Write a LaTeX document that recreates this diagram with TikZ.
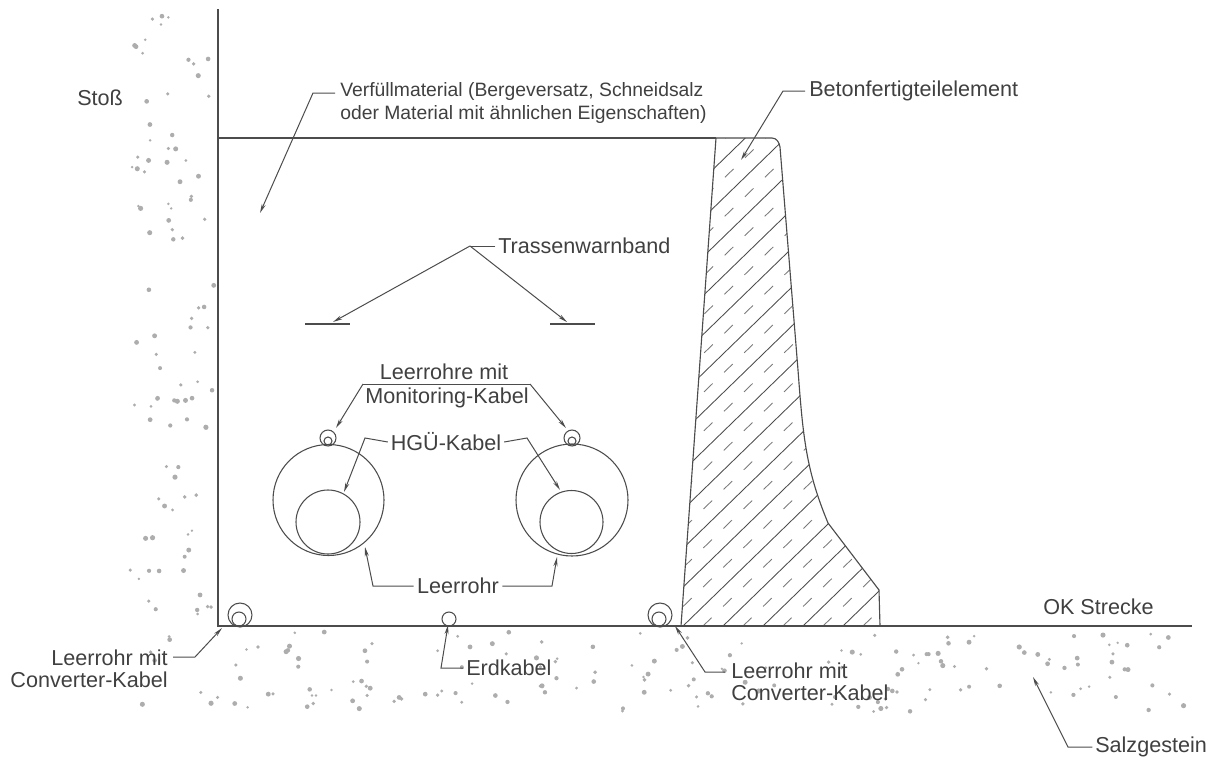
\documentclass[tikz,border=0pt]{standalone}
\usepackage{fontspec}
\setmainfont{Liberation Sans}
\usetikzlibrary{arrows.meta}
\definecolor{ink}{gray}{0.3}
\definecolor{txt}{gray}{0.25}
\definecolor{stip}{gray}{0.68}
\tikzset{
 px/.style={x=0.75pt,y=-0.75pt},
 biglab/.style={inner sep=0pt,text=txt,font=\fontsize{16.2pt}{16.5pt}\selectfont},
 verflab/.style={inner sep=0pt,text=txt,font=\fontsize{14.5pt}{17.3pt}\selectfont},
 line/.style={draw=ink,line width=0.85pt},
 lead/.style={draw=ink,line width=0.75pt},
 leadarrow/.style={lead,-{Stealth[length=7pt,width=3pt]}},
 hatch/.style={draw=ink,line width=0.65pt},
 hatchd/.style={draw=ink!75,line width=0.65pt,dash pattern=on 9pt off 12pt},
 pipe/.style={draw=ink,line width=0.8pt,circle,inner sep=0pt,fill=none},
 speck/.style={fill=stip,draw=none},
}
\begin{document}
\begin{tikzpicture}[px]
\useasboundingbox (0,0) rectangle (1214,757);
\pgfmathsetseed{4711}
\foreach \i in {1,...,95}{
  \pgfmathsetmacro{\xx}{130+rnd*84}
  \pgfmathsetmacro{\yy}{15+rnd*605}
  \pgfmathsetmacro{\rr}{1.3+rnd*1.3}
  \fill[speck] (\xx,\yy) circle[radius=\rr];
}
\foreach \i in {1,...,170}{
  \pgfmathsetmacro{\xx}{135+rnd*1050}
  \pgfmathsetmacro{\yy}{632+rnd*80}
  \pgfmathsetmacro{\rr}{1.3+rnd*1.3}
  \fill[speck] (\xx,\yy) circle[radius=\rr];
}
\begin{scope}
\clip (716,138) -- (772,138) to[out=0,in=100] (780,147) -- (798,370) .. controls (803,437) and (806,470) .. (828,523) -- (879,590) -- (880,626) -- (681,626) -- cycle;
\foreach \k in {-14,...,6}{
  \draw[hatch] ({683+40*\k},626) -- ++(700,-680);
  \draw[hatchd] ({703+40*\k},626) -- ++(700,-680);
}
\end{scope}
\draw[line] (716,138) -- (772,138) to[out=0,in=100] (780,147) -- (798,370) .. controls (803,437) and (806,470) .. (828,523) -- (879,590) -- (880,626);
\draw[line] (716,138) -- (681,626);
\draw[line] (218,9) -- (218,626) -- (1192,626);
\draw[line] (218,138) -- (716,138);
\draw[line] (305,324) -- (350,324);
\draw[line] (550,324) -- (595,324);
\node[pipe,minimum size=111*0.75pt] (bigL) at (328.5,500) {};
\node[pipe,minimum size=64*0.75pt] (smallL) at (328,522) {};
\node[pipe,minimum size=112*0.75pt] (bigR) at (572,500) {};
\node[pipe,minimum size=63*0.75pt] (smallR) at (571.5,522) {};
\node[pipe,minimum size=16*0.75pt] (monL) at (328,438) {};
\node[pipe,minimum size=8*0.75pt] (monLi) at (328,441) {};
\node[pipe,minimum size=16*0.75pt] (monR) at (572,438) {};
\node[pipe,minimum size=8*0.75pt] (monRi) at (572,441) {};
\node[pipe,minimum size=24*0.75pt] (convL) at (240,615) {};
\node[pipe,minimum size=14*0.75pt] (convLi) at (239,619) {};
\node[pipe,minimum size=24*0.75pt] (convR) at (660,615) {};
\node[pipe,minimum size=14*0.75pt] (convRi) at (659,619) {};
\node[pipe,minimum size=14*0.75pt] (erd) at (449,619) {};
\node[biglab,anchor=west] (stoss) at (77,98) {Stoß};
\node[verflab,anchor=west,align=left] (verf) at (340,103) {Verfüllmaterial (Bergeversatz, Schneidsalz\\oder Material mit ähnlichen Eigenschaften)};
\node[biglab,anchor=west] (beton) at (809,91) {Betonfertigteilelement};
\node[biglab,anchor=west] (trasse) at (498,246) {Trassenwarnband};
\node[biglab] (mon1) at (444,372) {Leerrohre mit};
\node[biglab] (mon2) at (447,398) {Monitoring-Kabel};
\node[biglab] (hgue) at (446,442) {HGÜ-Kabel};
\node[biglab] (leer) at (458,586) {Leerrohr};
\node[biglab,anchor=east,align=right] (convtL) at (168,669) {Leerrohr mit\\Converter-Kabel};
\node[biglab,anchor=west] (erdt) at (466,668) {Erdkabel};
\node[biglab,anchor=west,align=left] (convtR) at (731,682) {Leerrohr mit\\Converter-Kabel};
\node[biglab,anchor=west] (ok) at (1043,607) {OK Strecke};
\node[biglab,anchor=west] (salz) at (1095,747) {Salzgestein};
\coordinate (vA) at (313,93);
\coordinate (vT) at (260,213);
\coordinate (bA) at (783,91);
\coordinate (bT) at (741,160);
\coordinate (tA) at (470,246);
\coordinate (tL) at (333,322);
\coordinate (tR) at (567,322);
\coordinate (mA) at (363,384);
\coordinate (mB) at (530,384);
\coordinate (mL) at (336,428);
\coordinate (mR) at (566,428);
\coordinate (hA) at (365,438);
\coordinate (hB) at (527,438);
\coordinate (hL) at (344,492);
\coordinate (hR) at (560,490);
\coordinate (lA) at (373,586);
\coordinate (lB) at (552,586);
\coordinate (lL) at (365,547);
\coordinate (lR) at (557,557);
\coordinate (cA) at (195,657);
\coordinate (cT) at (222,628);
\coordinate (eA) at (441,668);
\coordinate (eT) at (448,625);
\coordinate (dA) at (705,672);
\coordinate (dT) at (675,626);
\coordinate (sA) at (1068,747);
\coordinate (sT) at (1033,677);
\draw[leadarrow] (335,93) -- (vA) -- (vT);
\draw[leadarrow] ([xshift=-3pt]beton.west) -- (bA) -- (bT);
\draw[lead] ([xshift=-2pt]trasse.west) -- (tA);
\draw[leadarrow] (tA) -- (tL);
\draw[leadarrow] (tA) -- (tR);
\draw[lead] (mA) -- (mB);
\draw[leadarrow] (mA) -- (mL);
\draw[leadarrow] (mB) -- (mR);
\draw[leadarrow] ([xshift=-2pt]hgue.west) -- (hA) -- (hL);
\draw[leadarrow] ([xshift=2pt]hgue.east) -- (hB) -- (hR);
\draw[leadarrow] ([xshift=-2.5pt]leer.west) -- (lA) -- (lL);
\draw[leadarrow] ([xshift=2.5pt]leer.east) -- (lB) -- (lR);
\draw[leadarrow] (173,657) -- (cA) -- (cT);
\draw[leadarrow] ([xshift=-2pt]erdt.west) -- (eA) -- (eT);
\draw[leadarrow] (725,672) -- (dA) -- (dT);
\draw[leadarrow] ([xshift=-2pt]salz.west) -- (sA) -- (sT);
\end{tikzpicture}
\end{document}
